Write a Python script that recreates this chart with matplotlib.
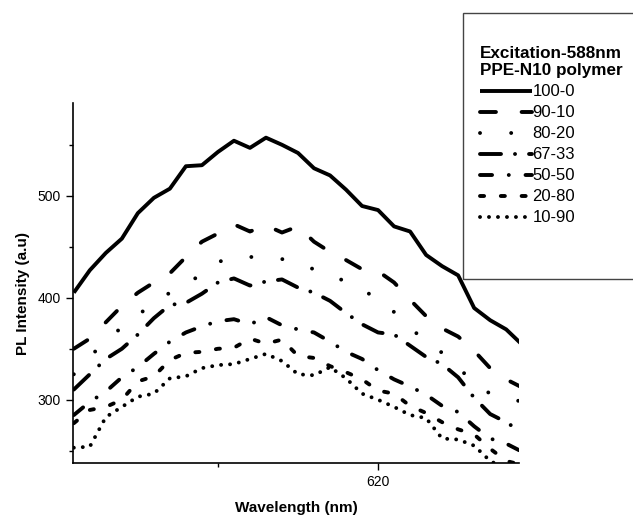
import numpy as np
import matplotlib
matplotlib.use("Agg")
import matplotlib.pyplot as plt
from matplotlib.patches import Rectangle
from matplotlib.ticker import MultipleLocator

plt.rcParams["font.family"] = ["Liberation Sans", "DejaVu Sans"]

wavelength = list(range(601, 630))

pl_100_0 = [405, 427, 444, 458, 483, 498, 507, 529, 530, 543, 554, 547, 557, 550, 542,
            527, 520, 506, 490, 486, 470, 465, 442, 431, 422, 390, 378, 369, 354]
pl_90_10 = [350, 360, 376, 392, 405, 415, 424, 440, 455, 463, 472, 465, 471, 464, 470,
            455, 445, 437, 428, 426, 415, 398, 382, 370, 362, 348, 331, 320, 312]
pl_80_20 = [325, 342, 358, 371, 383, 395, 405, 415, 422, 435, 440, 440, 440, 438, 433,
            428, 422, 416, 407, 400, 386, 370, 358, 346, 332, 316, 306, 302, 298]
pl_67_33 = [310, 325, 340, 350, 364, 380, 393, 395, 404, 415, 419, 412, 416, 418, 410,
            405, 397, 385, 374, 366, 364, 353, 342, 335, 322, 302, 286, 278, 268]
pl_50_50 = [285, 298, 308, 322, 332, 345, 357, 366, 372, 377, 379, 374, 381, 373, 369,
            366, 357, 347, 340, 329, 320, 313, 305, 294, 288, 274, 262, 257, 249]
pl_20_80 = [277, 290, 293, 300, 318, 323, 339, 346, 347, 350, 351, 360, 355, 359, 343,
            341, 333, 327, 320, 309, 306, 294, 287, 278, 271, 266, 252, 240, 236]
pl_10_90 = [253, 254, 283, 293, 303, 306, 321, 323, 331, 334, 335, 340, 345, 338, 325,
            324, 332, 321, 306, 300, 293, 285, 282, 262, 261, 255, 240, 232, 225]

labels = ["100-0", "90-10", "80-20", "67-33", "50-50", "20-80", "10-90"]
series = [pl_100_0, pl_90_10, pl_80_20, pl_67_33, pl_50_50, pl_20_80, pl_10_90]
styles = [
    "-",
    (0, (4.1, 6.6)),
    (0, (0.01, 8)),
    (0, (5.4, 3.6, 0.01, 3.6)),
    (0, (3.1, 4.3, 0.01, 4.3)),
    (0, (1.05, 4.3)),
    (0, (0.01, 2.3)),
]

fig = plt.figure(figsize=(6.33, 5.15), dpi=100)
ax = fig.add_axes([73 / 633, 52 / 515, 446 / 633, 360 / 515])

for vals, lab, ls in zip(series, labels, styles):
    ax.plot(wavelength, vals, color="black", lw=2.8,
            linestyle=ls, dash_capstyle="round", solid_capstyle="butt", label=lab)

ax.set_xlim(600.95, 628.8)
ax.set_ylim(238, 591)
ax.xaxis.set_major_locator(MultipleLocator(20))
ax.xaxis.set_minor_locator(MultipleLocator(10))
ax.yaxis.set_major_locator(MultipleLocator(100))
ax.yaxis.set_minor_locator(MultipleLocator(50))
ax.tick_params(which="major", length=5, width=1, labelsize=10, pad=4)
ax.tick_params(which="minor", length=3, width=1)
for s in ["top", "right"]:
    ax.spines[s].set_visible(False)
for s in ["left", "bottom"]:
    ax.spines[s].set_linewidth(1.2)

ax.set_xlabel("Wavelength (nm)", fontsize=11, fontweight="bold", labelpad=8)
ax.set_ylabel("PL Intensity (a.u)", fontsize=11, fontweight="bold")
ax.yaxis.set_label_coords(-0.096, 0.47)

leg = ax.legend(title="Excitation-588nm\nPPE-N10 polymer", loc="upper left",
                bbox_to_anchor=(480 / 633, 1 - 46 / 515), bbox_transform=fig.transFigure,
                frameon=False, fontsize=12, handlelength=3.1, handletextpad=0.05,
                labelspacing=0.36, borderpad=0, borderaxespad=0, alignment="left")
leg.get_title().set_fontweight("bold")
leg.get_title().set_fontsize(12.3)

box = Rectangle((463 / 633, 1 - 279 / 515), 0.4, 266 / 515, transform=fig.transFigure,
                facecolor="none", edgecolor="#444444", lw=1, clip_on=False)
fig.patches.append(box)

fig.savefig("out.png", dpi=100)
